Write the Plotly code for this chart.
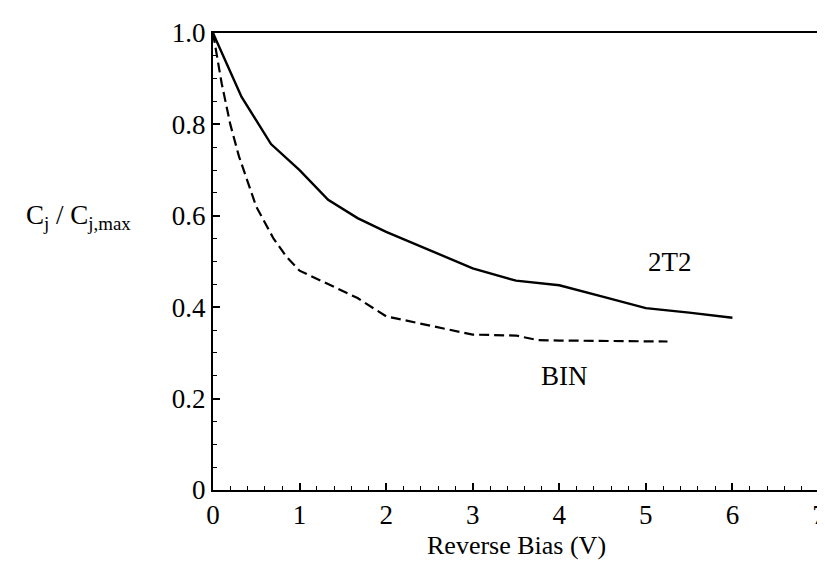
import plotly.graph_objects as go

# Data
x_2t2 = [0, 0.33, 0.67, 1.0, 1.33, 1.67, 2.0, 2.5, 3.0, 3.5, 4.0, 4.5, 5.0, 5.5, 6.0]
y_2t2 = [1.0, 0.86, 0.757, 0.70, 0.635, 0.595, 0.565, 0.525, 0.485, 0.458, 0.448, 0.423, 0.398, 0.388, 0.377]

x_bin = [0, 0.1, 0.2, 0.3, 0.4, 0.5, 0.7, 0.85, 1.0, 1.33, 1.67, 2.0, 2.5, 3.0, 3.5, 3.75, 4.0, 5.25]
y_bin = [1.0, 0.89, 0.80, 0.73, 0.675, 0.62, 0.55, 0.51, 0.48, 0.45, 0.42, 0.38, 0.36, 0.34, 0.338, 0.328, 0.327, 0.325]

x_ticks = [0, 1, 2, 3, 4, 5, 6, 7]
y_ticks = [0, 0.2, 0.4, 0.6, 0.8, 1.0]
y_tick_text = ["0", "0.2", "0.4", "0.6", "0.8", "1.0"]

FONT = "Liberation Serif"
FS = 27

fig = go.Figure()
fig.add_trace(go.Scatter(x=x_2t2, y=y_2t2, mode="lines",
                         line=dict(color="black", width=2.4), showlegend=False))
fig.add_trace(go.Scatter(x=x_bin, y=y_bin, mode="lines",
                         line=dict(color="black", width=2.2, dash="10px,5px"), showlegend=False))

fig.add_annotation(x=5.28, y=0.50, text="2T2", showarrow=False,
                   font=dict(family=FONT, size=FS, color="black"))
fig.add_annotation(x=4.06, y=0.25, text="BIN", showarrow=False,
                   font=dict(family=FONT, size=FS, color="black"))
fig.add_annotation(xref="paper", yref="y", x=-0.222, y=0.598, xanchor="center", yanchor="middle",
                   text="C<sub>j</sub> / C<sub>j,max</sub>", showarrow=False,
                   font=dict(family=FONT, size=FS, color="black"))
fig.add_annotation(xref="paper", yref="paper", x=0.5, y=-0.122, xanchor="center", yanchor="middle",
                   text="Reverse Bias (V)", showarrow=False,
                   font=dict(family=FONT, size=26, color="black"))

fig.update_layout(
    width=825, height=563,
    margin=dict(l=205, r=7, t=25, b=81),
    paper_bgcolor="white", plot_bgcolor="white",
    font=dict(family=FONT, size=FS, color="black"),
)
fig.update_xaxes(range=[0, 7], tickvals=x_ticks, ticks="inside", ticklen=7, tickwidth=1.5,
                 tickcolor="black", showline=True, linecolor="black", linewidth=2, mirror=True,
                 showgrid=False, zeroline=False, tickfont=dict(family=FONT, size=FS),
                 ticklabeloverflow="allow",
                 minor=dict(dtick=0.2, ticks="inside", ticklen=4, tickcolor="black", tickwidth=1.2))
fig.update_yaxes(range=[0, 1.0], tickvals=y_ticks, ticktext=y_tick_text, ticks="inside", ticklen=7,
                 tickwidth=1.5, tickcolor="black", showline=True, linecolor="black", linewidth=2,
                 mirror=True, showgrid=False, zeroline=False, tickfont=dict(family=FONT, size=FS),
                 minor=dict(dtick=0.05, ticks="inside", ticklen=4, tickcolor="black", tickwidth=1.2))

fig.write_html("out.html")
